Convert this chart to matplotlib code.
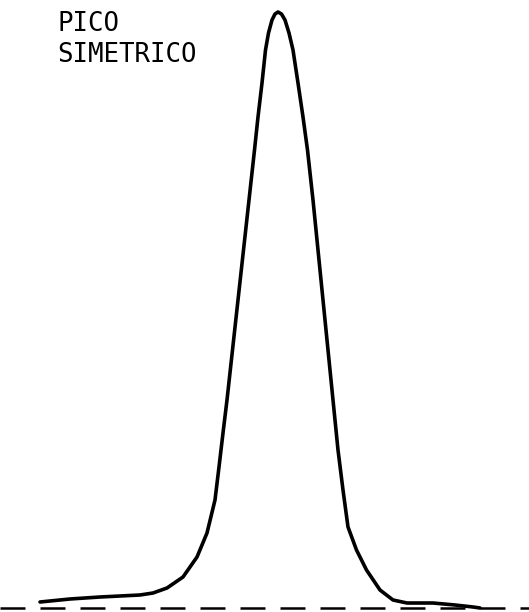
import numpy as np
import matplotlib.pyplot as plt

# traced detector trace: retention position and signal above the baseline
pos = [40, 70, 100, 140, 153, 167, 183, 197, 207, 215, 219, 223, 227,
       232.5, 238, 243.5, 249, 254.5, 258, 262, 265.5, 268.5, 272, 275, 278,
       281.5, 285, 289, 293, 298, 303, 307.5, 313, 318, 323, 328, 333,
       338, 343, 348, 356.5, 366.5, 380, 393, 407, 433, 455, 473, 480]
signal = [6, 9, 11, 13, 15, 20, 31, 51, 75, 108, 141, 175, 208,
          258, 308, 358, 408, 458, 491, 525, 558, 575, 588, 594, 596,
          594, 588, 575, 558, 525, 491, 458, 408, 358, 308, 258, 208,
          158, 118, 81, 58, 38, 18, 8, 5, 5, 3, 1, 0]

labels = ["PICO", "SIMETRICO"]

fig = plt.figure(figsize=(5.29, 6.12), dpi=100)
ax = fig.add_axes([0, 0, 1, 1])
ax.set_xlim(0, 529)
ax.set_ylim(-4, 608)
ax.axis("off")

# dashed baseline
ax.plot([0, 529], [0, 0], color="black", lw=1.8,
        linestyle=(0, (10, 6)))
ax.plot(pos, signal, color="black", lw=2.6,
        solid_joinstyle="round", solid_capstyle="round")

tops = [0.982, 0.932]
for lab, y in zip(labels, tops):
    ax.text(0.108, y, lab, transform=ax.transAxes,
            family="DejaVu Sans Mono", fontsize=18.5, va="top", ha="left")

plt.savefig("out.png", dpi=100)
